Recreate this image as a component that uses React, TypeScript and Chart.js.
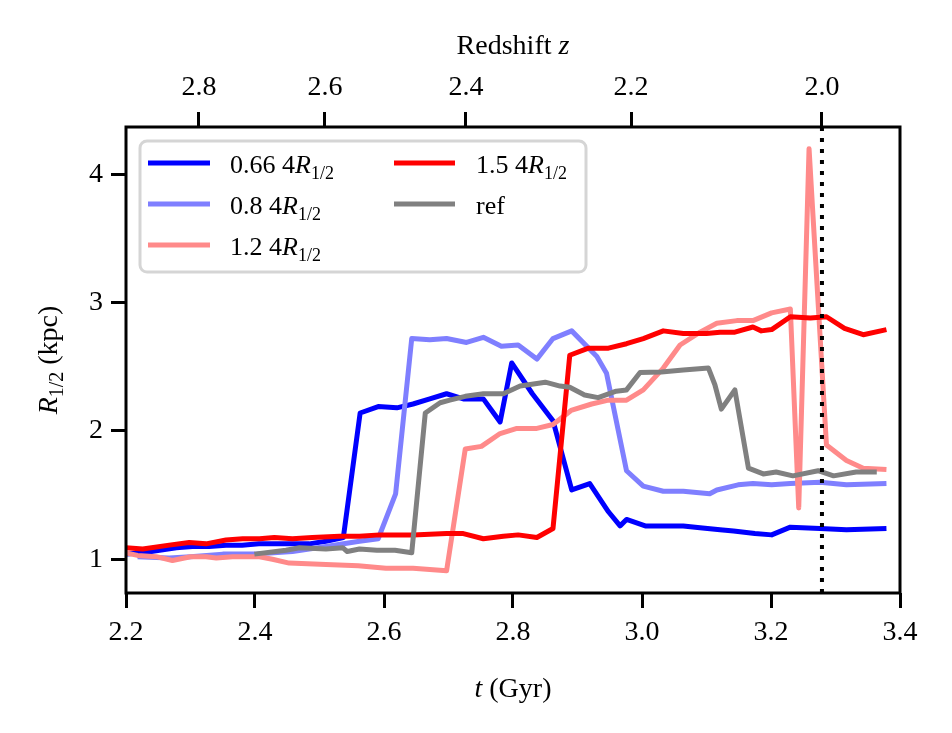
import React, { useEffect, useRef } from 'react';
import { Chart, registerables } from 'chart.js';

Chart.register(...registerables);

const FAM = '"Liberation Serif", "Times New Roman", serif';

// ---------- data ----------
const tBlue = [2.200, 2.226, 2.252, 2.278, 2.303, 2.329, 2.355, 2.380, 2.406, 2.432, 2.458, 2.484, 2.510, 2.537, 2.563, 2.591, 2.620, 2.645, 2.671, 2.697, 2.723, 2.754, 2.780, 2.798, 2.830, 2.862, 2.891, 2.919, 2.948, 2.966, 2.976, 3.005, 3.033, 3.064, 3.090, 3.121, 3.142, 3.175, 3.201, 3.230, 3.276, 3.317, 3.379];
const rBlue = [1.04, 1.05, 1.07, 1.09, 1.10, 1.10, 1.11, 1.11, 1.12, 1.12, 1.12, 1.12, 1.14, 1.17, 2.14, 2.19, 2.18, 2.21, 2.25, 2.29, 2.25, 2.25, 2.07, 2.53, 2.29, 2.08, 1.54, 1.59, 1.37, 1.26, 1.31, 1.26, 1.26, 1.26, 1.245, 1.23, 1.22, 1.20, 1.19, 1.25, 1.24, 1.23, 1.24];

const tLight = [2.218, 2.267, 2.300, 2.350, 2.400, 2.458, 2.510, 2.562, 2.591, 2.618, 2.643, 2.671, 2.697, 2.728, 2.754, 2.782, 2.808, 2.837, 2.862, 2.891, 2.930, 2.945, 2.976, 3.002, 3.033, 3.064, 3.105, 3.116, 3.149, 3.172, 3.201, 3.230, 3.276, 3.317, 3.379];
const rLight = [1.02, 1.01, 1.02, 1.04, 1.04, 1.06, 1.10, 1.14, 1.16, 1.51, 2.72, 2.71, 2.72, 2.69, 2.73, 2.66, 2.67, 2.56, 2.72, 2.78, 2.58, 2.45, 1.69, 1.57, 1.53, 1.53, 1.51, 1.54, 1.58, 1.59, 1.58, 1.59, 1.60, 1.58, 1.59];

const tPink = [2.200, 2.218, 2.247, 2.272, 2.300, 2.324, 2.340, 2.365, 2.407, 2.427, 2.453, 2.510, 2.560, 2.603, 2.645, 2.697, 2.726, 2.751, 2.780, 2.806, 2.837, 2.862, 2.890, 2.922, 2.948, 2.976, 3.002, 3.033, 3.059, 3.090, 3.116, 3.147, 3.172, 3.201, 3.230, 3.243, 3.259, 3.286, 3.317, 3.343, 3.379];
const rPink = [1.05, 1.03, 1.02, 0.99, 1.02, 1.02, 1.01, 1.02, 1.02, 1.00, 0.97, 0.96, 0.95, 0.93, 0.93, 0.91, 1.86, 1.88, 1.98, 2.02, 2.02, 2.05, 2.16, 2.21, 2.24, 2.24, 2.32, 2.49, 2.67, 2.77, 2.84, 2.86, 2.86, 2.92, 2.95, 1.40, 4.20, 1.89, 1.77, 1.71, 1.70];

const tRed = [2.200, 2.226, 2.267, 2.298, 2.324, 2.355, 2.381, 2.407, 2.430, 2.458, 2.489, 2.531, 2.562, 2.593, 2.645, 2.697, 2.723, 2.754, 2.785, 2.808, 2.837, 2.862, 2.888, 2.917, 2.948, 2.976, 3.002, 3.033, 3.064, 3.100, 3.121, 3.144, 3.172, 3.185, 3.201, 3.230, 3.261, 3.286, 3.314, 3.343, 3.379];
const rRed = [1.09, 1.08, 1.11, 1.13, 1.12, 1.15, 1.16, 1.16, 1.17, 1.16, 1.17, 1.18, 1.18, 1.19, 1.19, 1.20, 1.20, 1.16, 1.18, 1.19, 1.17, 1.24, 2.59, 2.645, 2.645, 2.68, 2.72, 2.78, 2.76, 2.76, 2.77, 2.77, 2.81, 2.78, 2.79, 2.89, 2.88, 2.89, 2.80, 2.75, 2.79];

const tRef = [2.399, 2.448, 2.469, 2.510, 2.536, 2.543, 2.562, 2.589, 2.617, 2.643, 2.664, 2.687, 2.702, 2.726, 2.754, 2.785, 2.811, 2.850, 2.873, 2.888, 2.911, 2.932, 2.960, 2.976, 2.997, 3.030, 3.064, 3.103, 3.113, 3.123, 3.144, 3.165, 3.188, 3.208, 3.234, 3.273, 3.297, 3.332, 3.364];
const rRef = [1.04, 1.07, 1.09, 1.08, 1.09, 1.06, 1.08, 1.07, 1.07, 1.05, 2.14, 2.22, 2.24, 2.27, 2.29, 2.29, 2.35, 2.38, 2.35, 2.34, 2.28, 2.26, 2.31, 2.32, 2.455, 2.46, 2.475, 2.49, 2.36, 2.17, 2.32, 1.71, 1.665, 1.68, 1.65, 1.69, 1.65, 1.68, 1.68];

const xTicks = [2.2, 2.4, 2.6, 2.8, 3.0, 3.2, 3.4];
const yTicks = [1, 2, 3, 4];
const zTickLabels = ['2.8', '2.6', '2.4', '2.2', '2.0'];
const zTickTimes = [2.313, 2.5085, 2.727, 2.983, 3.279];
const tZ2 = 3.279; // time of z = 2 (dotted line)

const X_MIN = 2.2, X_MAX = 3.4, Y_MIN = 0.737, Y_MAX = 4.369;

const seriesLabels = ['0.66', '0.8', '1.2', '1.5', 'ref'];
const seriesColors = ['#0000ff', '#7f7fff', '#ff8a8a', '#ff0000', '#808080'];

// ---------- helpers ----------
type Seg = { t: string; it?: boolean; sub?: boolean };
const segFont = (s: Seg, size: number) => `${s.it ? 'italic ' : ''}${s.sub ? Math.round(size * 0.7) : size}px ${FAM}`;
function richWidth(ctx: CanvasRenderingContext2D, segs: Seg[], size: number) {
  let w = 0;
  for (const s of segs) { ctx.font = segFont(s, size); w += ctx.measureText(s.t).width; }
  return w;
}
function drawRich(ctx: CanvasRenderingContext2D, segs: Seg[], x: number, y: number, size: number, align: 'left' | 'center') {
  const w = richWidth(ctx, segs, size);
  let cx = align === 'center' ? x - w / 2 : x;
  ctx.textAlign = 'left';
  ctx.textBaseline = 'alphabetic';
  ctx.fillStyle = '#000';
  for (const s of segs) {
    ctx.font = segFont(s, size);
    ctx.fillText(s.t, cx, y + (s.sub ? size * 0.22 : 0));
    cx += ctx.measureText(s.t).width;
  }
}
const mk = (t: number[], r: number[]) => t.map((x, i) => ({ x, y: r[i] }));

const legendLabel = (i: number): Seg[] =>
  seriesLabels[i] === 'ref' ? [{ t: 'ref' }] : [{ t: seriesLabels[i] + ' 4' }, { t: 'R', it: true }, { t: '1/2', sub: true }];

const overlay = {
  id: 'overlay',
  afterDraw(chart: any) {
    const { ctx, chartArea: a } = chart;
    ctx.save();
    // frame
    ctx.strokeStyle = '#000';
    ctx.lineWidth = 3;
    ctx.strokeRect(a.left, a.top, a.right - a.left, a.bottom - a.top);

    // axis titles
    const cxm = (a.left + a.right) / 2;
    drawRich(ctx, [{ t: 't', it: true }, { t: ' (Gyr)' }], cxm, 697, 28, 'center');
    drawRich(ctx, [{ t: 'Redshift ' }, { t: 'z', it: true }], cxm, 54, 28, 'center');
    ctx.save();
    ctx.translate(57, (a.top + a.bottom) / 2);
    ctx.rotate(-Math.PI / 2);
    drawRich(ctx, [{ t: 'R', it: true }, { t: '1/2', sub: true }, { t: ' (kpc)' }], 0, 0, 28, 'center');
    ctx.restore();

    // legend
    const lx = 140, ly = 141, lw = 446, lh = 131, rad = 7;
    ctx.beginPath();
    ctx.moveTo(lx + rad, ly);
    ctx.arcTo(lx + lw, ly, lx + lw, ly + lh, rad);
    ctx.arcTo(lx + lw, ly + lh, lx, ly + lh, rad);
    ctx.arcTo(lx, ly + lh, lx, ly, rad);
    ctx.arcTo(lx, ly, lx + lw, ly, rad);
    ctx.closePath();
    ctx.fillStyle = 'rgba(255,255,255,0.8)';
    ctx.fill();
    ctx.strokeStyle = '#d5d5d5';
    ctx.lineWidth = 3;
    ctx.stroke();

    const cols = [{ x0: 148, x1: 210, tx: 230 }, { x0: 394, x1: 455, tx: 476 }];
    const rows = [163, 204, 245];
    const slots = [[0, 0], [0, 1], [0, 2], [1, 0], [1, 1]];
    slots.forEach(([c, r], i) => {
      const col = cols[c], y = rows[r];
      ctx.beginPath();
      ctx.strokeStyle = seriesColors[i];
      ctx.lineWidth = 5;
      ctx.lineCap = 'butt';
      ctx.moveTo(col.x0, y);
      ctx.lineTo(col.x1, y);
      ctx.stroke();
      drawRich(ctx, legendLabel(i), col.tx, y + 10, 26, 'left');
    });
    ctx.restore();
  },
};

export default function App() {
  const ref = useRef<HTMLCanvasElement>(null);
  useEffect(() => {
    if (!ref.current) return;
    const tickFont = { family: FAM, size: 28 };
    const gridTicks = { drawOnChartArea: false, drawTicks: true, tickLength: 15, color: '#000', lineWidth: 3 };
    const ds = (i: number, t: number[], r: number[], order: number) => ({
      label: seriesLabels[i],
      data: mk(t, r),
      borderColor: seriesColors[i],
      backgroundColor: seriesColors[i],
      borderWidth: 5,
      pointRadius: 0,
      fill: false,
      order,
    });
    const chart = new Chart(ref.current, {
      type: 'line',
      data: {
        datasets: [
          ds(0, tBlue, rBlue, 6),
          ds(1, tLight, rLight, 5),
          ds(2, tPink, rPink, 4),
          ds(3, tRed, rRed, 3),
          ds(4, tRef, rRef, 2),
          {
            label: 'z=2',
            data: [{ x: tZ2, y: Y_MIN }, { x: tZ2, y: Y_MAX }],
            borderColor: '#000',
            borderWidth: 4,
            borderDash: [4, 7],
            pointRadius: 0,
            fill: false,
            order: 1,
          },
        ] as any,
      },
      options: {
        animation: false,
        responsive: false,
        maintainAspectRatio: false,
        layout: { padding: 0 },
        plugins: { legend: { display: false }, tooltip: { enabled: false } },
        elements: { line: { tension: 0, borderJoinStyle: 'round', borderCapStyle: 'butt' } },
        scales: {
          x: {
            type: 'linear', position: 'bottom', min: X_MIN, max: X_MAX, bounds: 'data',
            afterBuildTicks: (s: any) => { s.ticks = xTicks.map((v) => ({ value: v })); },
            ticks: { font: tickFont, color: '#000', padding: 8, maxRotation: 0, autoSkip: false, callback: (v: any) => Number(v).toFixed(1) },
            grid: gridTicks, border: { display: false },
            afterFit: (s: any) => { s.height = 140; },
          },
          x2: {
            type: 'linear', position: 'top', min: X_MIN, max: X_MAX, bounds: 'data',
            afterBuildTicks: (s: any) => { s.ticks = zTickTimes.map((v) => ({ value: v })); },
            ticks: { font: tickFont, color: '#000', padding: 8, maxRotation: 0, autoSkip: false, callback: (_v: any, i: number) => zTickLabels[i] },
            grid: gridTicks, border: { display: false },
            afterFit: (s: any) => { s.height = 127; },
          },
          y: {
            type: 'linear', position: 'left', min: Y_MIN, max: Y_MAX, bounds: 'data',
            afterBuildTicks: (s: any) => { s.ticks = yTicks.map((v) => ({ value: v })); },
            ticks: { font: tickFont, color: '#000', padding: 8, autoSkip: false, callback: (v: any) => String(v) },
            grid: gridTicks, border: { display: false },
            afterFit: (s: any) => { s.width = 126; },
          },
          y2: {
            type: 'linear', position: 'right', min: Y_MIN, max: Y_MAX,
            ticks: { display: false },
            grid: { display: false, drawOnChartArea: false, drawTicks: false },
            border: { display: false },
            afterFit: (s: any) => { s.width = 52; },
          },
        },
      } as any,
      plugins: [overlay],
    });
    return () => chart.destroy();
  }, []);
  return (
    <div style={{ position: 'fixed', left: 0, top: 0, width: 952, height: 733, background: '#fff' }}>
      <canvas ref={ref} width={952} height={733} style={{ width: 952, height: 733, display: 'block' }} />
    </div>
  );
}
